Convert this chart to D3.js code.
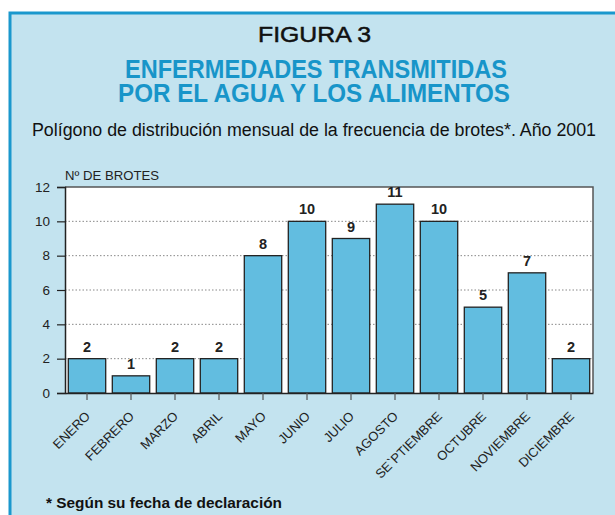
<!DOCTYPE html>
<html>
<head>
<meta charset="utf-8">
<script src="https://cdn.jsdelivr.net/npm/d3@7"></script>
<style>
  body { margin: 0; background: #fff; }
  svg { display: block; font-family: "Liberation Sans", Arial, sans-serif; }
</style>
</head>
<body>
<svg id="chart" width="615" height="515"></svg>
<script>
const months = ['ENERO', 'FEBRERO', 'MARZO', 'ABRIL', 'MAYO', 'JUNIO', 'JULIO',
    'AGOSTO', 'SE`PTIEMBRE', 'OCTUBRE', 'NOVIEMBRE', 'DICIEMBRE'];
const outbreaks = [2, 1, 2, 2, 8, 10, 9, 11, 10, 5, 7, 2];
const yTicks = [0, 2, 4, 6, 8, 10, 12];
const titleLines = ['ENFERMEDADES TRANSMITIDAS', 'POR EL AGUA Y LOS ALIMENTOS'];

const svg = d3.select('#chart');

// panel background with blue border
svg.append('rect')
    .attr('x', 10).attr('y', 13)
    .attr('width', 620).attr('height', 520)
    .attr('fill', '#c3e3ef')
    .attr('stroke', '#1a98cd')
    .attr('stroke-width', 3);

// titles (the original uses a condensed face, so squeeze with textLength)
function title(txt, x, y, size, len, opts) {
    return svg.append('text')
        .attr('x', x).attr('y', y)
        .attr('font-size', size)
        .attr('textLength', len)
        .attr('lengthAdjust', 'spacingAndGlyphs')
        .attr('font-weight', opts.bold ? 'bold' : 'normal')
        .attr('fill', opts.fill)
        .text(txt);
}

title('FIGURA 3', 258, 42, 22.5, 113, { fill: '#111' })
    .attr('stroke', '#111').attr('stroke-width', 0.5);

// two-line blue title in one text element
const blueTitle = svg.append('text')
    .attr('font-size', 26.5)
    .attr('font-weight', 'bold')
    .attr('fill', '#1895c9');
const lineX = [125, 118], lineY = [78, 102], lineLen = [382, 392];
blueTitle.selectAll('tspan')
    .data(titleLines)
    .join('tspan')
    .attr('x', (d, i) => lineX[i])
    .attr('y', (d, i) => lineY[i])
    .attr('textLength', (d, i) => lineLen[i])
    .attr('lengthAdjust', 'spacingAndGlyphs')
    .text(d => d);

title('Polígono de distribución mensual de la frecuencia de brotes*. Año 2001',
    32, 136, 18, 564, { fill: '#111' });

// plot
const plotL = 65, plotR = 593, plotT = 187, plotB = 393;

const x = d3.scaleBand()
    .domain(months)
    .range([plotL, plotR])
    .paddingInner(0.15)
    .paddingOuter(0.075);

const y = d3.scaleLinear()
    .domain([0, 12])
    .range([plotB, plotT]);

svg.append('rect')
    .attr('x', plotL).attr('y', plotT)
    .attr('width', plotR - plotL).attr('height', plotB - plotT)
    .attr('fill', '#fff');

// dotted gridlines
svg.append('g')
    .selectAll('line')
    .data(yTicks.filter(d => d > 0 && d < 12))
    .join('line')
    .attr('x1', plotL).attr('x2', plotR)
    .attr('y1', d => y(d)).attr('y2', d => y(d))
    .attr('stroke', '#888')
    .attr('stroke-width', 1)
    .attr('stroke-dasharray', '1.5,2');

// top and right frame
svg.append('path')
    .attr('d', `M${plotL},${plotT}H${plotR}V${plotB}`)
    .attr('fill', 'none')
    .attr('stroke', '#555')
    .attr('stroke-width', 1.5);

// bars
svg.append('g')
    .selectAll('rect')
    .data(outbreaks)
    .join('rect')
    .attr('x', (d, i) => x(months[i]))
    .attr('y', d => y(d))
    .attr('width', x.bandwidth())
    .attr('height', d => y(0) - y(d))
    .attr('fill', '#62bde0')
    .attr('stroke', '#222')
    .attr('stroke-width', 1.3);

// value labels
svg.append('g')
    .selectAll('text')
    .data(outbreaks)
    .join('text')
    .attr('x', (d, i) => x(months[i]) + x.bandwidth() / 2)
    .attr('y', d => y(d) - 7)
    .attr('text-anchor', 'middle')
    .attr('font-size', 14.5)
    .attr('font-weight', 'bold')
    .attr('fill', '#222')
    .text(d => d);

// y axis
const yAxis = svg.append('g')
    .attr('transform', `translate(${plotL},0)`)
    .call(d3.axisLeft(y).tickValues(yTicks).tickSize(8).tickPadding(7));
yAxis.select('.domain').attr('stroke', '#222').attr('stroke-width', 1.5);
yAxis.selectAll('.tick line').attr('stroke', '#222').attr('stroke-width', 1.2);
yAxis.selectAll('.tick text')
    .attr('font-family', '"Liberation Sans", Arial, sans-serif')
    .attr('font-size', 13.5)
    .attr('fill', '#222');

svg.append('text')
    .attr('x', plotL).attr('y', 180)
    .attr('font-size', 13)
    .attr('textLength', 94)
    .attr('lengthAdjust', 'spacingAndGlyphs')
    .attr('fill', '#222')
    .text('Nº DE BROTES');

// x axis
const xAxis = svg.append('g')
    .attr('transform', `translate(0,${plotB})`)
    .call(d3.axisBottom(x).tickSize(7).tickSizeOuter(0).tickPadding(4));
xAxis.select('.domain').attr('stroke', '#222').attr('stroke-width', 1.5);
xAxis.selectAll('.tick line').attr('stroke', '#555').attr('stroke-width', 1.2);
xAxis.selectAll('.tick text')
    .attr('font-family', '"Liberation Sans", Arial, sans-serif')
    .attr('font-size', 13)
    .attr('fill', '#222')
    .attr('text-anchor', 'end')
    .attr('transform', 'translate(4,24) rotate(-45)')
    .attr('dy', 0)
    .attr('y', 0);

// footnote
svg.append('text')
    .attr('x', 46).attr('y', 508)
    .attr('font-size', 15)
    .attr('textLength', 236)
    .attr('lengthAdjust', 'spacingAndGlyphs')
    .attr('font-weight', 'bold')
    .attr('fill', '#111')
    .text('* Según su fecha de declaración');
</script>
</body>
</html>
